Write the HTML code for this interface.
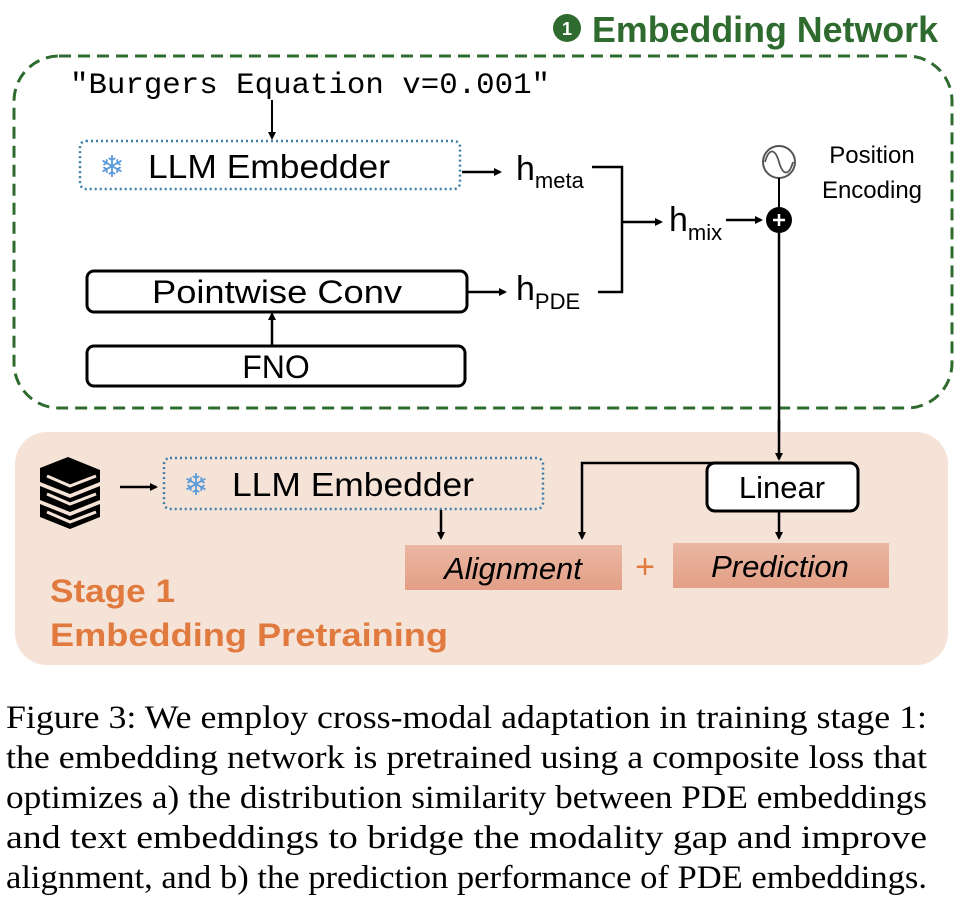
<!DOCTYPE html>
<html><head><meta charset="utf-8"><style>
html,body{margin:0;padding:0;background:#fff;width:966px;height:914px;overflow:hidden}
svg{display:block}
</style></head><body>
<svg width="966" height="914" viewBox="0 0 966 914" xmlns="http://www.w3.org/2000/svg">
<defs>
<marker id="a" markerWidth="8" markerHeight="8" refX="6" refY="4" orient="auto" markerUnits="userSpaceOnUse"><path d="M0,0 L8,4 L0,8 z" fill="#000"/></marker>
<linearGradient id="g" x1="0" y1="0" x2="0" y2="1"><stop offset="0" stop-color="#eab7a3"/><stop offset="1" stop-color="#e39f86"/></linearGradient>
</defs>
<!-- title -->
<circle cx="567" cy="28" r="14" fill="#2f6b2f"/>
<text x="567" y="35" text-anchor="middle" font-family="Liberation Sans, sans-serif" font-size="18" font-weight="bold" fill="#fff">1</text>
<text x="592" y="42" font-family="Liberation Sans, sans-serif" font-size="36" font-weight="bold" fill="#2f6b2f" textLength="346" lengthAdjust="spacingAndGlyphs">Embedding Network</text>
<!-- dashed box -->
<rect x="14" y="56" width="938" height="352" rx="45" fill="none" stroke="#2f6b2f" stroke-width="3" stroke-dasharray="12,7"/>
<text x="70" y="93" font-family="Liberation Mono, monospace" font-size="30" fill="#000" textLength="480" lengthAdjust="spacingAndGlyphs">"Burgers Equation v=0.001"</text>
<line x1="272" y1="100" x2="272" y2="138" stroke="#000" stroke-width="2" marker-end="url(#a)"/>
<!-- LLM embedder 1 -->
<rect x="80" y="141" width="380" height="48" rx="6" fill="none" stroke="#3d7fa8" stroke-width="2.5" stroke-dasharray="2,3"/>
<text x="112" y="177" text-anchor="middle" font-size="30" fill="#5a9ad8" font-family="DejaVu Sans, sans-serif">❄</text>
<text x="148" y="178" font-family="Liberation Sans, sans-serif" font-size="33" fill="#000" textLength="242" lengthAdjust="spacingAndGlyphs">LLM Embedder</text>
<line x1="462" y1="172" x2="500" y2="172" stroke="#000" stroke-width="2.5" marker-end="url(#a)"/>
<text x="516" y="180" font-family="Liberation Sans, sans-serif" font-size="34">h<tspan font-size="22" dy="8">meta</tspan></text>
<polyline points="592,167 622,167 622,292 598,292" fill="none" stroke="#000" stroke-width="2.5"/>
<line x1="622" y1="222" x2="661" y2="222" stroke="#000" stroke-width="2.5" marker-end="url(#a)"/>
<text x="669" y="231" font-family="Liberation Sans, sans-serif" font-size="34">h<tspan font-size="22" dy="9">mix</tspan></text>
<line x1="726" y1="220" x2="761" y2="220" stroke="#000" stroke-width="2.5" marker-end="url(#a)"/>
<!-- position encoding -->
<circle cx="779" cy="162" r="16" fill="#fff" stroke="#555" stroke-width="2"/>
<path d="M765,162 C769,148 775,148 779,162 C783,176 789,176 793,162" fill="none" stroke="#555" stroke-width="1.8"/>
<line x1="779" y1="178" x2="779" y2="208" stroke="#000" stroke-width="2"/>
<text x="872" y="163" text-anchor="middle" font-family="Liberation Sans, sans-serif" font-size="24">Position</text>
<text x="872" y="198" text-anchor="middle" font-family="Liberation Sans, sans-serif" font-size="24">Encoding</text>
<circle cx="779" cy="220" r="13" fill="#000"/>
<path d="M773,220 h12 M779,214 v12" stroke="#fff" stroke-width="2.5"/>
<line x1="779" y1="233" x2="779" y2="459" stroke="#000" stroke-width="2.5" marker-end="url(#a)"/>
<!-- pointwise conv -->
<rect x="87" y="271" width="380" height="41" rx="7" fill="none" stroke="#000" stroke-width="3"/>
<text x="277" y="303" text-anchor="middle" font-family="Liberation Sans, sans-serif" font-size="32" textLength="250" lengthAdjust="spacingAndGlyphs">Pointwise Conv</text>
<line x1="467" y1="292" x2="505" y2="292" stroke="#000" stroke-width="2.5" marker-end="url(#a)"/>
<text x="516" y="300" font-family="Liberation Sans, sans-serif" font-size="34">h<tspan font-size="22" dy="9">PDE</tspan></text>
<line x1="272" y1="345" x2="272" y2="314" stroke="#000" stroke-width="2.5" marker-end="url(#a)"/>
<rect x="87" y="346" width="378" height="40" rx="7" fill="none" stroke="#000" stroke-width="3"/>
<text x="276" y="378" text-anchor="middle" font-family="Liberation Sans, sans-serif" font-size="32">FNO</text>
<!-- orange region -->
<rect x="15" y="432" width="933" height="233" rx="32" fill="#f6e3d8"/>
<line x1="779" y1="420" x2="779" y2="459" stroke="#000" stroke-width="2.5" marker-end="url(#a)"/>
<polyline points="779,463 582,463 582,538" fill="none" stroke="#000" stroke-width="2.5" marker-end="url(#a)"/>
<!-- books -->
<g fill="#000">
<path d="M40,468 L68,457 L100,470 L100,482 L70,494 L40,482 z"/>
<path d="M40,486 L70,498 L100,486 L100,500 L70,512 L40,500 z"/>
<path d="M40,504 L70,516 L100,504 L100,517 L70,529 L40,517 z"/>
</g>
<g fill="none" stroke="#f6e3d8" stroke-width="3">
<path d="M47,476 L70,486 L96,476"/><path d="M47,494 L70,504 L96,494"/><path d="M47,512 L70,522 L96,512"/>
</g>
<line x1="120" y1="487" x2="156" y2="487" stroke="#000" stroke-width="2.5" marker-end="url(#a)"/>
<rect x="164" y="458" width="379" height="51" rx="6" fill="none" stroke="#3d7fa8" stroke-width="2.5" stroke-dasharray="2,3"/>
<text x="196" y="495" text-anchor="middle" font-size="30" fill="#5a9ad8" font-family="DejaVu Sans, sans-serif">❄</text>
<text x="232" y="496" font-family="Liberation Sans, sans-serif" font-size="33" textLength="242" lengthAdjust="spacingAndGlyphs">LLM Embedder</text>
<line x1="441" y1="510" x2="441" y2="538" stroke="#000" stroke-width="2.5" marker-end="url(#a)"/>
<rect x="707" y="463" width="151" height="48" rx="8" fill="#fff" stroke="#000" stroke-width="3"/>
<text x="782" y="498" text-anchor="middle" font-family="Liberation Sans, sans-serif" font-size="31">Linear</text>
<line x1="779" y1="512" x2="779" y2="538" stroke="#000" stroke-width="2.5" marker-end="url(#a)"/>
<rect x="405" y="545" width="217" height="45" fill="url(#g)"/>
<text x="513" y="579" text-anchor="middle" font-family="Liberation Sans, sans-serif" font-size="31" font-style="italic">Alignment</text>
<text x="645" y="578" text-anchor="middle" font-family="Liberation Sans, sans-serif" font-size="34" fill="#e07a3e">+</text>
<rect x="673" y="543" width="216" height="45" fill="url(#g)"/>
<text x="780" y="577" text-anchor="middle" font-family="Liberation Sans, sans-serif" font-size="31" font-style="italic">Prediction</text>
<text x="50" y="602" font-family="Liberation Sans, sans-serif" font-size="32" font-weight="bold" fill="#e07a3e" textLength="125" lengthAdjust="spacingAndGlyphs">Stage 1</text>
<text x="50" y="646" font-family="Liberation Sans, sans-serif" font-size="32" font-weight="bold" fill="#e07a3e" textLength="398" lengthAdjust="spacingAndGlyphs">Embedding Pretraining</text>
<!-- caption -->
<g font-family="Liberation Serif, serif" font-size="33" fill="#000">
<text x="6" y="728" textLength="921" lengthAdjust="spacingAndGlyphs">Figure 3: We employ cross-modal adaptation in training stage 1:</text>
<text x="6" y="768" textLength="921" lengthAdjust="spacingAndGlyphs">the embedding network is pretrained using a composite loss that</text>
<text x="6" y="808" textLength="921" lengthAdjust="spacingAndGlyphs">optimizes a) the distribution similarity between PDE embeddings</text>
<text x="6" y="848" textLength="921" lengthAdjust="spacingAndGlyphs">and text embeddings to bridge the modality gap and improve</text>
<text x="6" y="888" textLength="921" lengthAdjust="spacingAndGlyphs">alignment, and b) the prediction performance of PDE embeddings.</text>
</g>
</svg>
</body></html>
